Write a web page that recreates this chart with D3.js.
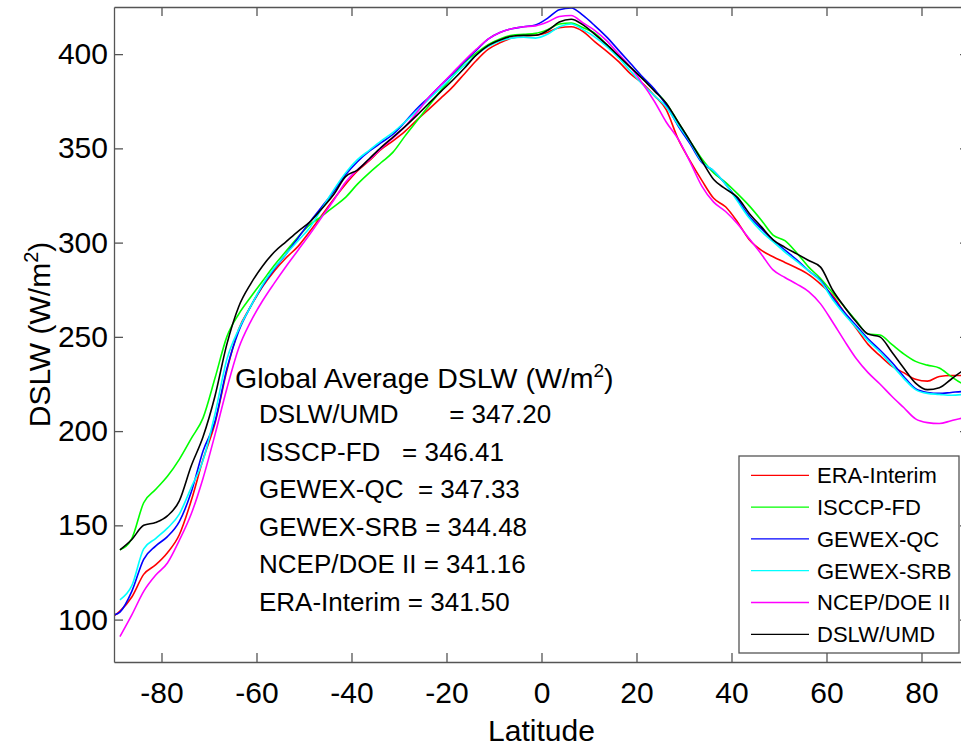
<html>
<head>
    <title></title>
    <script src='https://d3js.org/d3.v7.min.js'></script>
    <style>
        body { margin: 0; background-color: white; }
        text { font-family: 'Liberation Sans', Arial, Helvetica, sans-serif; }
    </style>
</head>
<body>

<script>

// latitude grid of the zonal means
var lats = [-90, -88.75, -86.25, -83.75, -81.25, -78.75, -76.25, -73.75, -71.25, -68.75,
            -66.25, -63.75, -61.25, -58.75, -56.25, -53.75, -51.25, -48.75, -46.25, -43.75,
            -41.25, -38.75, -36.25, -33.75, -31.25, -28.75, -26.25, -23.75, -21.25, -18.75,
            -16.25, -13.75, -11.25, -8.75, -6.25, -3.75, -1.25, 1.25, 3.75, 6.25,
            8.75, 11.25, 13.75, 16.25, 18.75, 21.25, 23.75, 26.25, 28.75, 31.25,
            33.75, 36.25, 38.75, 41.25, 43.75, 46.25, 48.75, 51.25, 53.75, 56.25,
            58.75, 61.25, 63.75, 66.25, 68.75, 71.25, 73.75, 76.25, 78.75, 81.25,
            83.75, 86.25, 88.75, 90];

var eraInterim = [102, 104.5, 112, 124, 129, 135.5, 145, 163, 185, 204,
                  232, 254, 266, 276.5, 285, 292, 298, 306, 314.5, 323,
                  331, 338, 343.5, 349.5, 354, 359, 365, 370.7, 376.5, 382.5,
                  389.5, 396.5, 402.5, 406, 408.5, 409.5, 410, 411.5, 414, 414.5,
                  412, 406.5, 401.5, 396, 389.5, 384.5, 378, 370.5, 355, 343.5,
                  333, 323.5, 319, 311, 301.5, 296, 292.5, 289.5, 286.5, 283,
                  278, 272, 263, 254.5, 246, 240, 234.5, 231, 227.5, 226.5,
                  229, 229.5, 229.5, 229.5];

var isccpFd = [null, 137, 143, 162, 169, 176, 185, 196, 207, 228,
               250, 262, 271, 279.5, 288, 295.5, 303, 309.5, 314, 319,
               324, 331, 337, 342.5, 348, 356.5, 364.5, 372.5, 380.5, 388,
               395.5, 400.5, 405, 408, 410, 410.5, 411, 413, 416, 416.5,
               414, 411, 405, 399, 393, 387, 381, 374, 364, 354,
               344.5, 337, 332, 326, 319.5, 312, 304, 301, 294.5, 287,
               281, 273.5, 266, 258.5, 251.5, 251, 246, 241, 237, 235,
               233.5, 229, 225, 224];

var gewexQc = [102.5, 104, 115, 132, 139, 144, 152, 167.5, 189.5, 205,
               233, 253, 266, 277, 286, 294, 302.5, 311, 319, 327,
               336, 343, 348.5, 353, 357.5, 364, 371, 377, 383.5, 389.5,
               396, 402, 408, 411.5, 413.5, 414.5, 415.5, 419, 423.5, 424.5,
               420.5, 415, 409, 402, 395, 388, 381.5, 373, 362, 352.5,
               342.5, 338, 331, 323, 314, 307.5, 301.5, 296, 290.8, 285,
               280, 271, 263, 256, 249, 243, 236.5, 229, 222.5, 220.5,
               220, 220.5, 221, 221];

var gewexSrb = [null, 110.5, 118, 137.5, 143, 148.5, 156, 170, 184.5, 209,
                238, 254, 266, 277.5, 286.5, 294, 301, 308, 318, 328,
                337, 344, 349, 354, 358.5, 364, 370, 376, 382, 388,
                394, 399.5, 404, 407, 408.5, 409, 408.5, 410.5, 414.5, 416,
                413, 409, 404, 398, 391, 384, 378, 372, 362.5, 353.5,
                343, 338, 331, 322, 313, 306, 300.5, 295, 290, 285,
                279.5, 270, 262, 255, 248, 242, 235, 228, 222, 220,
                219.5, 219, 219.5, 220];

var ncepDoe = [null, 91, 102.5, 115, 123.5, 130, 142, 156, 175, 198,
               222.5, 244, 258, 269, 278.5, 287.5, 296, 304.5, 313.5, 322.5,
               332, 338.6, 344, 350, 355.5, 361.5, 369, 377, 383.5, 390,
               396.5, 402.5, 408, 411.5, 413.5, 414.5, 415, 417, 420, 420.5,
               416.5, 412.5, 407, 400, 393, 384.5, 375, 364, 355, 343,
               330, 321.5, 316.5, 310, 302, 294, 285.5, 281.5, 278, 274,
               267.5, 258, 248, 238.5, 231, 225, 218.5, 212.5, 206.5, 204.5,
               204, 205.5, 207, 207.5];

var dslwUmd = [null, 137, 142.5, 150, 151.5, 155, 163, 181.5, 197, 218.5,
               246, 266, 278, 287.5, 295, 300.5, 306, 311, 318, 325.5,
               335, 338.5, 344.5, 350.5, 356, 361.5, 367.5, 373.8, 380, 386,
               392.5, 399.5, 404.5, 407.5, 409.5, 410, 410, 412.5, 417, 418.5,
               415.5, 410.5, 405, 399, 393, 387, 380.5, 374, 364, 354,
               343.5, 333.5, 328.5, 324, 315.5, 308.5, 301.5, 297.5, 294, 290.5,
               287, 275, 266, 258, 251.5, 250, 242, 233.5, 225.5, 222,
               223, 227.5, 232, 233];

var seriesNames = ['ERA-Interim', 'ISCCP-FD', 'GEWEX-QC', 'GEWEX-SRB', 'NCEP/DOE II', 'DSLW/UMD'];
var seriesColors = ['#ff0000', '#00ff00', '#0000ff', '#00ffff', '#ff00ff', '#000000'];
var seriesValues = [eraInterim, isccpFd, gewexQc, gewexSrb, ncepDoe, dslwUmd];

var xTicks = [-80, -60, -40, -20, 0, 20, 40, 60, 80];
var yTicks = [100, 150, 200, 250, 300, 350, 400];

// global average annotation, spacing kept as in the original strings
var avgLabels = ['DSLW/UMD       ', 'ISSCP-FD   ', 'GEWEX-QC  ', 'GEWEX-SRB ', 'NCEP/DOE II ', 'ERA-Interim '];
var avgValues = ['347.20', '346.41', '347.33', '344.48', '341.16', '341.50'];

var width = 961, height = 746;
var axLeft = 114, axRight = 969, axTop = 7, axBottom = 662;
var axisColor = '#555555';

var x = d3.scaleLinear().domain([-90, 90]).range([axLeft, axRight]);
var y = d3.scaleLinear().domain([77.5, 425]).range([axBottom, axTop]);

var svg = d3.select('body')
        .append('svg')
        .attr('width', width)
        .attr('height', height);

svg.append('rect')
        .attr('width', width)
        .attr('height', height)
        .attr('fill', 'white');

svg.append('defs').append('clipPath')
        .attr('id', 'plot-clip')
        .append('rect')
        .attr('x', axLeft)
        .attr('y', axTop)
        .attr('width', axRight - axLeft)
        .attr('height', axBottom - axTop);

// the data lines
var line = d3.line()
        .defined(function(d) { return d[1] !== null; })
        .x(function(d) { return x(d[0]); })
        .y(function(d) { return y(d[1]); })
        .curve(d3.curveMonotoneX);

var lineGroup = svg.append('g').attr('clip-path', 'url(#plot-clip)');

seriesValues.forEach(function(vals, i) {
    lineGroup.append('path')
            .datum(lats.map(function(lat, j) { return [lat, vals[j]]; }))
            .attr('d', line)
            .attr('fill', 'none')
            .attr('stroke', seriesColors[i])
            .attr('stroke-width', 1.6)
            .attr('stroke-linejoin', 'round');
});

// box axes with inward ticks on all four sides
var styleAxis = function(g) {
    g.selectAll('path, line').attr('stroke', axisColor).attr('stroke-width', 1.3);
    g.selectAll('text')
            .attr('fill', 'black')
            .style('font-size', '30px')
            .style('font-family', "'Liberation Sans', Arial, sans-serif");
};

svg.append('g')
        .attr('transform', 'translate(0,' + axBottom + ')')
        .call(d3.axisBottom(x).tickValues(xTicks).tickSize(-9).tickSizeOuter(0).tickPadding(20)
                .tickFormat(function(d) { return String(d); }))
        .call(styleAxis);

svg.append('g')
        .attr('transform', 'translate(0,' + axTop + ')')
        .call(d3.axisTop(x).tickValues(xTicks).tickSize(-9).tickSizeOuter(0).tickFormat(''))
        .call(styleAxis);

svg.append('g')
        .attr('transform', 'translate(' + axLeft + ',0)')
        .call(d3.axisLeft(y).tickValues(yTicks).tickSize(-9).tickSizeOuter(0).tickPadding(6)
                .tickFormat(function(d) { return String(d); }))
        .call(styleAxis);

svg.append('g')
        .attr('transform', 'translate(' + axRight + ',0)')
        .call(d3.axisRight(y).tickValues(yTicks).tickSize(-9).tickSizeOuter(0).tickFormat(''))
        .call(styleAxis);

// axis labels
svg.append('text')
        .attr('x', x(0))
        .attr('y', 741)
        .attr('text-anchor', 'middle')
        .style('font-size', '30px')
        .text('Latitude');

var yLabel = svg.append('text')
        .attr('transform', 'translate(50,' + ((axTop + axBottom) / 2) + ') rotate(-90)')
        .attr('text-anchor', 'middle')
        .style('font-size', '30px');
yLabel.append('tspan').text('DSLW (W/m');
yLabel.append('tspan').attr('dy', -12).style('font-size', '20px').text('2');
yLabel.append('tspan').attr('dy', 12).text(')');

// global average annotation
var title = svg.append('text')
        .attr('x', 235)
        .attr('y', 388)
        .style('font-size', '28.5px');
title.append('tspan').text('Global Average DSLW (W/m');
title.append('tspan').attr('dy', -11).style('font-size', '19px').text('2');
title.append('tspan').attr('dy', 11).text(')');

svg.selectAll('.avg-line')
        .data(avgLabels)
        .enter()
        .append('text')
        .attr('class', 'avg-line')
        .attr('x', 259)
        .attr('y', function(d, i) { return 423.3 + i * 37.5; })
        .style('font-size', '26px')
        .style('white-space', 'pre')
        .attr('xml:space', 'preserve')
        .text(function(d, i) { return d + '= ' + avgValues[i]; });

// legend
var legend = svg.append('g').attr('transform', 'translate(739,456)');

legend.append('rect')
        .attr('width', 220)
        .attr('height', 197)
        .attr('fill', 'white')
        .attr('stroke', axisColor)
        .attr('stroke-width', 1.3);

seriesNames.forEach(function(name, i) {
    var ly = 19.3 + i * 31.8;
    legend.append('line')
            .attr('x1', 12)
            .attr('x2', 70)
            .attr('y1', ly)
            .attr('y2', ly)
            .attr('stroke', seriesColors[i])
            .attr('stroke-width', 1.3);
    legend.append('text')
            .attr('x', 78)
            .attr('y', ly)
            .attr('dy', '0.36em')
            .style('font-size', '22px')
            .text(name);
});

</script>

</body>
</html>
